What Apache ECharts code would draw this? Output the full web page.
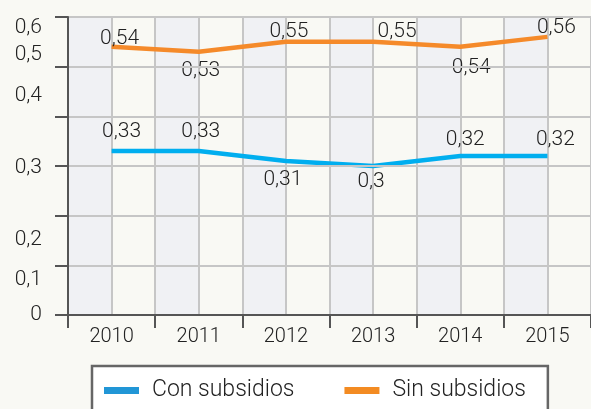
<!DOCTYPE html>
<html>
<head>
<meta charset="utf-8">
<script src="https://cdn.jsdelivr.net/npm/echarts@6/dist/echarts.min.js"></script>
<style>
html,body{margin:0;padding:0;background:#f9f9f4;}
#c{width:591px;height:409px;}
</style>
</head>
<body>
<div id="c"></div>
<script>
// ---- data ----
var years = ['2010', '2011', '2012', '2013', '2014', '2015'];
var conSubsidios = [0.33, 0.33, 0.31, 0.30, 0.32, 0.32];
var sinSubsidios = [0.54, 0.53, 0.55, 0.55, 0.54, 0.56];
var seriesNames = ['Con subsidios', 'Sin subsidios'];
var yTickLabels = ['0', '0,1', '0,2', '0,3', '0,4', '0,5', '0,6'];

// ---- layout / style ----
var yLabelAt = [0, 0.07, 0.151, 0.296, 0.441, 0.523, 0.579];
var halfCats = [];
years.forEach(function (y) { halfCats.push(y + 'a', y + 'b'); });
var conOffsets = [[10, -19], [2, -19], [-3, 19], [-2, 16], [5, -16], [8, -16]];
var sinOffsets = [[8, -8], [2, 19], [3, -10], [24, -10], [11, 21], [9, -9]];
var FONT = 'Roboto';
var FW = 300;

function fmt(v) { return String(v).replace('.', ','); }
function buildData(vals, offs) {
  return vals.map(function (v, i) {
    return { value: v, label: { offset: offs[i] } };
  });
}

var chart = echarts.init(document.getElementById('c'), null, { renderer: 'canvas' });
chart.setOption({
  backgroundColor: '#f9f9f4',
  animation: false,
  textStyle: { fontFamily: FONT },
  grid: { left: 68, top: 17, right: -4, bottom: 94, containLabel: false },
  legend: {
    left: 92, top: 366,
    padding: [13, 22, 30, 12],
    backgroundColor: '#ffffff',
    borderColor: '#666666',
    borderWidth: 2.5,
    itemGap: 50,
    itemWidth: 35, itemHeight: 7,
    icon: 'rect',
    textStyle: { fontSize: 23, color: '#222', fontFamily: FONT, fontWeight: FW, padding: [0, 0, 0, 8] },
    data: [
      { name: seriesNames[0], itemStyle: { color: '#2196d6' } },
      { name: seriesNames[1], itemStyle: { color: '#f38b22' } }
    ]
  },
  xAxis: [
    {
      type: 'category', data: years, boundaryGap: true, position: 'bottom',
      axisLine: { show: true, lineStyle: { color: '#555', width: 2 } },
      axisTick: { show: true, length: 13, interval: 0, alignWithLabel: false, lineStyle: { color: '#555', width: 2 } },
      axisLabel: { fontSize: 20, color: '#222', margin: 12, fontFamily: FONT, fontWeight: FW },
      splitLine: { show: false },
      z: 5
    },
    {
      type: 'category', data: halfCats, boundaryGap: true, position: 'bottom',
      axisLine: { show: false }, axisTick: { show: false }, axisLabel: { show: false },
      splitLine: { show: true, interval: 0, lineStyle: { color: '#c6c6c6', width: 2 } },
      splitArea: { show: true, interval: 0, areaStyle: { color: ['#f0f1f4', '#f9f9f4'] } }
    }
  ],
  yAxis: [
    {
      type: 'value', min: 0, max: 0.6, interval: 0.1, position: 'left',
      axisLine: { show: true, lineStyle: { color: '#555', width: 2 } },
      axisTick: { show: true, length: 13, lineStyle: { color: '#555', width: 2 } },
      splitLine: { show: true, lineStyle: { color: '#c6c6c6', width: 2 } },
      axisLabel: { show: false },
      z: 5
    },
    {
      type: 'value', min: 0, max: 0.6, interval: 0.1, position: 'left', offset: 0,
      axisLine: { show: false },
      axisTick: { show: false },
      splitLine: { show: false },
      axisLabel: {
        fontSize: 21, color: '#222', margin: 26, fontFamily: FONT, fontWeight: FW,
        customValues: yLabelAt,
        formatter: function (v) {
          for (var i = 0; i < yLabelAt.length; i++) {
            if (Math.abs(yLabelAt[i] - v) < 1e-6) return yTickLabels[i];
          }
          return '';
        }
      }
    }
  ],
  series: [
    {
      name: seriesNames[0], type: 'line', xAxisIndex: 0, yAxisIndex: 0,
      data: buildData(conSubsidios, conOffsets),
      symbol: 'circle', symbolSize: 0,
      lineStyle: { color: '#00aeef', width: 4.5 },
      itemStyle: { color: '#00aeef' },
      label: { show: true, position: 'inside', fontSize: 21, color: '#222', fontFamily: FONT, fontWeight: FW,
        formatter: function (p) { return fmt(p.value); } },
      z: 3
    },
    {
      name: seriesNames[1], type: 'line', xAxisIndex: 0, yAxisIndex: 0,
      data: buildData(sinSubsidios, sinOffsets),
      symbol: 'circle', symbolSize: 0,
      lineStyle: { color: '#f58a2a', width: 4.5 },
      itemStyle: { color: '#f58a2a' },
      label: { show: true, position: 'inside', fontSize: 21, color: '#222', fontFamily: FONT, fontWeight: FW,
        formatter: function (p) { return fmt(p.value); } },
      z: 3
    }
  ]
});
</script>
</body>
</html>
